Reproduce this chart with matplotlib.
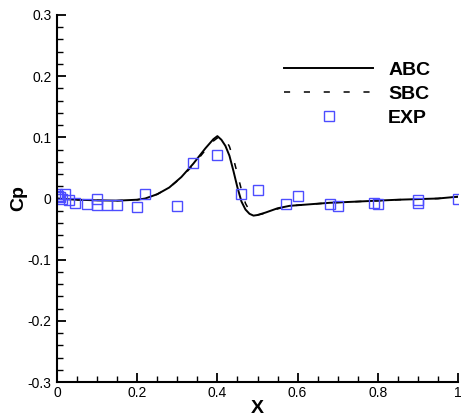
import matplotlib
matplotlib.use("Agg")
import matplotlib.pyplot as plt
from matplotlib.ticker import MultipleLocator, FuncFormatter

abc_x = [0.0, 0.02, 0.05, 0.1, 0.15, 0.2, 0.22, 0.25, 0.28, 0.31, 0.34, 0.37, 0.39, 0.40, 0.41, 0.42, 0.43, 0.44, 0.45, 0.46, 0.47, 0.48, 0.49, 0.50, 0.52, 0.55, 0.58, 0.62, 0.68, 0.75, 0.85, 0.95, 1.0]
abc_y = [0.0, -0.001, -0.002, -0.003, -0.0035, -0.002, 0.0, 0.007, 0.018, 0.035, 0.057, 0.082, 0.097, 0.102, 0.096, 0.086, 0.070, 0.045, 0.018, -0.005, -0.018, -0.025, -0.028, -0.027, -0.023, -0.016, -0.012, -0.010, -0.007, -0.005, -0.002, 0.0, 0.003]

sbc_x = [0.0, 0.02, 0.05, 0.1, 0.15, 0.2, 0.22, 0.25, 0.28, 0.31, 0.34, 0.37, 0.39, 0.40, 0.41, 0.42, 0.43, 0.44, 0.45, 0.46, 0.47, 0.48, 0.49, 0.50, 0.52, 0.55, 0.58, 0.62, 0.68, 0.75, 0.85, 0.95, 1.0]
sbc_y = [0.0, -0.001, -0.002, -0.003, -0.0035, -0.002, 0.0, 0.007, 0.018, 0.034, 0.055, 0.079, 0.094, 0.099, 0.100, 0.097, 0.085, 0.065, 0.040, 0.014, -0.008, -0.020, -0.026, -0.027, -0.024, -0.017, -0.012, -0.010, -0.007, -0.005, -0.002, 0.0, 0.003]

exp_x = [0.0, 0.003, 0.008, 0.012, 0.02, 0.03, 0.045, 0.075, 0.1, 0.1, 0.125, 0.15, 0.2, 0.22, 0.3, 0.34, 0.4, 0.46, 0.5, 0.57, 0.6, 0.68, 0.7, 0.79, 0.8, 0.9, 0.9, 1.0]
exp_y = [0.008, 0.004, 0.003, -0.001, 0.007, -0.003, -0.008, -0.009, 0.0, -0.011, -0.011, -0.011, -0.014, 0.007, -0.012, 0.058, 0.071, 0.007, 0.014, -0.009, 0.004, -0.009, -0.012, -0.007, -0.009, -0.002, -0.007, 0.0]

labels = ["ABC", "SBC", "EXP"]

plt.rcParams['font.family'] = ['Liberation Sans', 'DejaVu Sans']

fig = plt.figure(figsize=(4.62, 4.17), dpi=100)
ax = fig.add_axes([57/462, 1-382/417, (458-57)/462, (382-15)/417])

ax.plot(abc_x, abc_y, color='black', lw=1.4, label=labels[0])
ax.plot(sbc_x, sbc_y, color='black', lw=1.1, dashes=(4, 9), label=labels[1])
ax.plot(exp_x, exp_y, ls='none', marker='s', ms=7.5, mfc='none', mec='#4d4dff', mew=1.0, label=labels[2])

ax.set_xlim(0, 1)
ax.set_ylim(-0.3, 0.3)
ax.xaxis.set_major_locator(MultipleLocator(0.2))
ax.xaxis.set_minor_locator(MultipleLocator(0.05))
ax.yaxis.set_major_locator(MultipleLocator(0.1))
ax.yaxis.set_minor_locator(MultipleLocator(0.02))
fmt = FuncFormatter(lambda v, p: '%g' % round(v, 6))
ax.xaxis.set_major_formatter(fmt)
ax.yaxis.set_major_formatter(fmt)

for s in ['top', 'right']:
    ax.spines[s].set_visible(False)
for s in ['left', 'bottom']:
    ax.spines[s].set_linewidth(1.5)

ax.tick_params(which='major', direction='in', length=6.5, width=1.3, labelsize=10, pad=3)
ax.tick_params(which='minor', direction='in', length=4, width=1.0)
ax.tick_params(axis='y', pad=4)

ax.set_xlabel('X', fontsize=14, fontweight='bold', labelpad=0)
ax.set_ylabel('Cp', fontsize=14, fontweight='bold', labelpad=0)

leg = ax.legend(loc='upper left', bbox_to_anchor=((284-57)/401, 1-(61-15)/367), frameon=False,
                handlelength=4.6, handletextpad=0.75, labelspacing=0.33,
                prop={'size': 14, 'weight': 'bold'}, borderaxespad=0, borderpad=0)

fig.savefig('out.png', dpi=100)
